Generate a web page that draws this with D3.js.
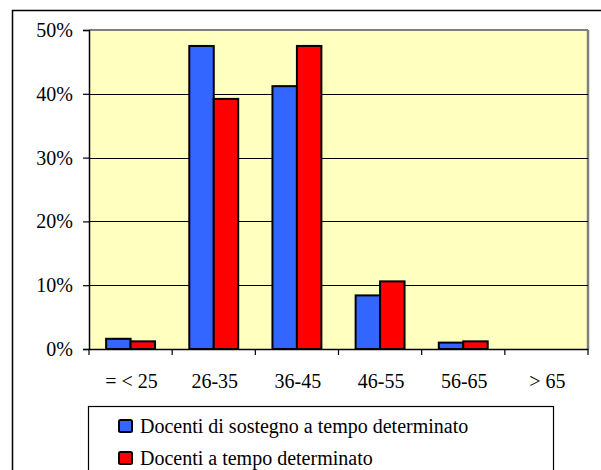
<!DOCTYPE html>
<html><head><meta charset="utf-8">
<script src="https://cdn.jsdelivr.net/npm/d3@7"></script>
<style>
@font-face{font-family:"ChartSerif";src:local("Liberation Serif"),local("LiberationSerif"),local("Liberation Serif Regular");}
body{margin:0;background:#fff}svg{display:block}
</style>
</head><body>
<svg id="c" width="601" height="470"></svg>
<script>
const categories = ["= < 25", "26-35", "36-45", "46-55", "56-65", "> 65"];
const seriesNames = ["Docenti di sostegno a tempo determinato", "Docenti a tempo determinato"];
const sostegno = [1.6, 47.5, 41.2, 8.4, 1.0, 0];
const tempoDet = [1.2, 39.2, 47.5, 10.6, 1.2, 0];
const yTicks = [0, 10, 20, 30, 40, 50];
const colors = ["#3366FF", "#FF0000"];

const svg = d3.select("#c");
const L = 89, R = 588, T = 30, B = 349;

svg.append("rect").attr("x",12.5).attr("y",10.5).attr("width",600).attr("height",470)
  .attr("fill","#fff").attr("stroke","#000").attr("stroke-width",1.5);

const x0 = d3.scaleBand().domain(categories).range([L, R]).padding(0);
const x1 = d3.scaleBand().domain([0,1]).range([0, x0.bandwidth()]).paddingInner(0).paddingOuter(0.7);
const y = d3.scaleLinear().domain([0, 50]).range([B, T]);

svg.append("rect").attr("x",L).attr("y",T).attr("width",R-L).attr("height",B-T).attr("fill","#FFFFC0");
svg.append("line").attr("x1",L).attr("x2",R).attr("y1",T).attr("y2",T).attr("stroke","#808080").attr("stroke-width",2);
svg.append("line").attr("x1",R).attr("x2",R).attr("y1",T).attr("y2",B).attr("stroke","#808080").attr("stroke-width",2.5);

svg.append("g").selectAll("line").data(yTicks.filter(v=>v>0 && v<50)).join("line")
  .attr("x1",L).attr("x2",R).attr("y1",d=>Math.round(y(d))+0.5).attr("y2",d=>Math.round(y(d))+0.5)
  .attr("stroke","#000").attr("stroke-width",1);

const data = categories.map((c,i)=>({c, vals:[sostegno[i], tempoDet[i]]}));
data.forEach(d=>{
  d.vals.forEach((v,j)=>{
    if (v<=0) return;
    svg.append("rect").attr("x",x0(d.c)+x1(j)).attr("y",y(v)).attr("width",x1.bandwidth()).attr("height",B-y(v))
      .attr("fill",colors[j]).attr("stroke","#000").attr("stroke-width",2);
  });
});

// y axis lines via d3 axis (labels drawn separately as plain svg text)
const yAxis = svg.append("g").attr("transform",`translate(${L},0)`)
  .call(d3.axisLeft(y).tickValues(yTicks).tickFormat("").tickSize(6));
yAxis.select(".domain").attr("stroke","#000").attr("stroke-width",1.5);
yAxis.selectAll(".tick line").attr("stroke","#000").attr("stroke-width",1.2);
yAxis.selectAll("text").remove();
yTicks.forEach(v=>{
  svg.append("text").attr("x",L-16).attr("y",y(v)+7).attr("text-anchor","end")
    .attr("font-size",20).attr("fill","#000").style("font-family",'"Liberation Serif"').text(v+"%");
});

const xAxis = svg.append("g").attr("transform",`translate(0,${B})`)
  .call(d3.axisBottom(x0).tickSize(0).tickFormat(""));
xAxis.select(".domain").attr("stroke","#000").attr("stroke-width",1.5);
xAxis.selectAll("text").remove();
const bounds = categories.map((c)=>x0(c)).concat([R]);
bounds.forEach(b=>{
  svg.append("line").attr("x1",b).attr("x2",b).attr("y1",B).attr("y2",B+6).attr("stroke","#000").attr("stroke-width",1.2);
});
categories.forEach(c=>{
  svg.append("text").attr("x",x0(c)+x0.bandwidth()/2+1).attr("y",B+39).attr("text-anchor","middle")
    .attr("font-size",20).attr("fill","#000").style("font-family",'"Liberation Serif"').text(c);
});

svg.append("rect").attr("x",88.5).attr("y",406.5).attr("width",465).attr("height",80)
  .attr("fill","#fff").attr("stroke","#000").attr("stroke-width",1.2);
seriesNames.forEach((n,i)=>{
  const base = 433 + i*32;
  svg.append("rect").attr("x",119).attr("y",base-13).attr("width",13).attr("height",12)
    .attr("fill",colors[i]).attr("stroke","#000").attr("stroke-width",2).attr("rx",1.5);
  svg.append("text").attr("x",140).attr("y",base).attr("font-size",20).attr("fill","#000")
    .style("font-family",'"Liberation Serif"').text(n);
});
</script>
</body></html>
